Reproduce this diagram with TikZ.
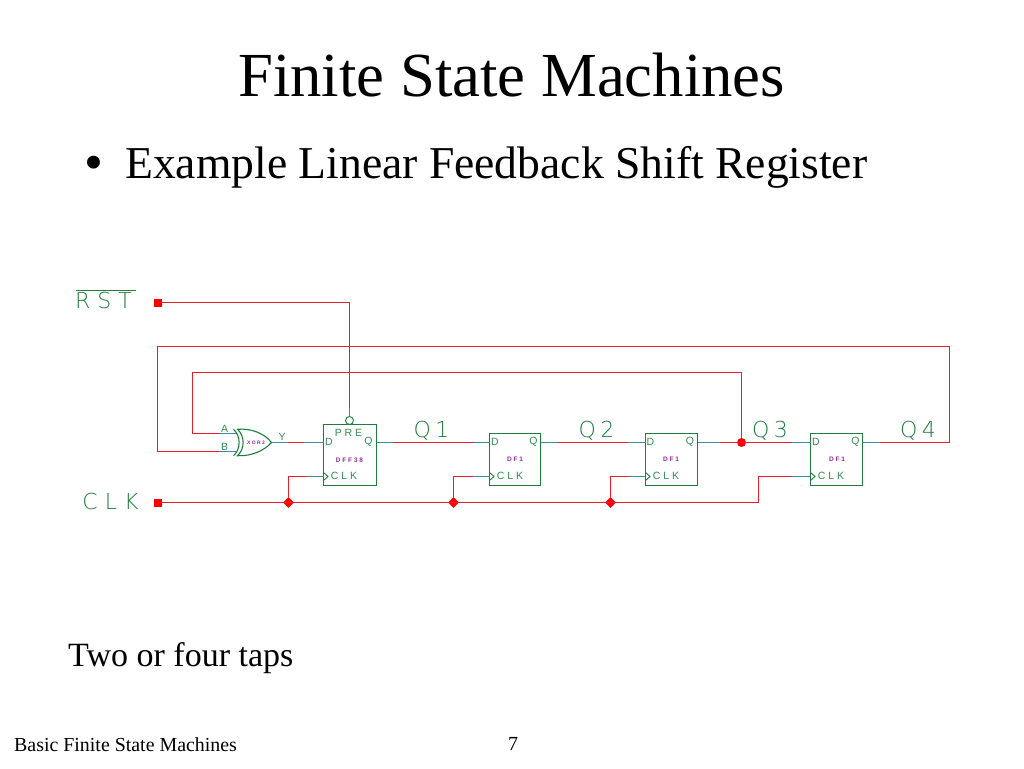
\documentclass[tikz,border=0pt]{standalone}
\usepackage{fontspec}
\usetikzlibrary{shapes.geometric}
\setmainfont{Liberation Serif}
\setsansfont{Liberation Sans}
\newfontfamily\cadfont{DejaVu Sans ExtraLight}
\definecolor{wirered}{RGB}{235,30,45}
\definecolor{stubteal}{RGB}{60,140,160}
\definecolor{cadgreen}{RGB}{30,125,60}
\definecolor{pingreen}{RGB}{50,140,80}
\definecolor{cadpurple}{RGB}{150,40,150}
\tikzset{
    slidetext/.style={anchor=base west, inner sep=0pt, text=black},
    wire/.style={draw=wirered, line width=1.1pt},
    stub/.style={draw=stubteal, line width=1.1pt},
    part/.style={draw=cadgreen, line width=1.3pt},
    ffbox/.style={part, fill=white, minimum height=52pt, minimum width=52pt, inner sep=0pt},
    pad/.style={fill=red, minimum size=8pt, inner sep=0pt},
    joint/.style={fill=red, diamond, minimum size=11pt, inner sep=0pt},
    tapdot/.style={fill=red, circle, minimum size=9pt, inner sep=0pt},
    biglabel/.style={inner sep=0pt, text=cadgreen, font=\cadfont\fontsize{22}{22}\selectfont},
    pinlabel/.style={inner sep=0pt, text=pingreen, font=\sffamily\fontsize{10.5}{11}\selectfont},
    typelabel/.style={inner sep=0pt, text=cadpurple, font=\bfseries\sffamily\fontsize{6.5}{7}\selectfont},
    xorlabel/.style={typelabel, font=\bfseries\sffamily\fontsize{5}{6}\selectfont}
}
\begin{document}
\begin{tikzpicture}[x=1pt,y=-1pt]
    \useasboundingbox (0,0) rectangle (1024,768);

    % slide text
    \node[slidetext, font=\fontsize{62.7}{64}\selectfont] (title) at (238,96) {Finite State Machines};
    \node[slidetext, font=\fontsize{54}{54}\selectfont] (bullet) at (84.5,180) {\textbullet};
    \node[slidetext, font=\fontsize{45.6}{46}\selectfont] (subtitle) at (125,178) {Example Linear Feedback Shift Register};
    \node[slidetext, font=\fontsize{34}{34}\selectfont] (taps) at (68,666) {Two or four taps};
    \node[slidetext, font=\fontsize{19.9}{20}\selectfont] (footer) at (14,751) {Basic Finite State Machines};
    \node[slidetext, font=\fontsize{20}{20}\selectfont] (pageno) at (508,750) {7};

    % pins
    \coordinate (xorA) at (235.5,433.5);
    \coordinate (xorB) at (235.5,451.5);
    \coordinate (xorY) at (271.5,442.5);
    \coordinate (ff1d) at (323.5,442.5);
    \coordinate (ff1q) at (376.5,442.5);
    \coordinate (ff1c) at (323.5,476.5);
    \coordinate (ff2d) at (489.5,442.5);
    \coordinate (ff2q) at (540.5,442.5);
    \coordinate (ff2c) at (489.5,476.5);
    \coordinate (ff3d) at (645.5,442.5);
    \coordinate (ff3q) at (697.5,442.5);
    \coordinate (ff3c) at (645.5,476.5);
    \coordinate (ff4d) at (810.5,442.5);
    \coordinate (ff4q) at (862.5,442.5);
    \coordinate (ff4c) at (810.5,476.5);
    \coordinate (outerne) at (949.5,346.5);
    \coordinate (outernw) at (157.5,346.5);
    \coordinate (innerne) at (741.5,372.5);
    \coordinate (innernw) at (192.5,372.5);
    \coordinate (clkstep) at (758.5,502.5);

    % pads and joints
    \node[pad] (rstpad) at (157.5,302.5) {};
    \node[pad] (clkpad) at (157.5,502.5) {};
    \node[joint] (clk1) at (288.5,502.5) {};
    \node[joint] (clk2) at (453.5,502.5) {};
    \node[joint] (clk3) at (610.5,502.5) {};
    \node[tapdot] (q3tap) at (741.5,442.5) {};

    % flip flops
    \node[ffbox, minimum width=53pt, minimum height=61pt] (ff1) at (350,455) {};
    \node[ffbox, minimum width=51pt] (ff2) at (515,459.5) {};
    \node[ffbox] (ff3) at (671.5,459.5) {};
    \node[ffbox] (ff4) at (836.5,459.5) {};
    \node[draw=cadgreen, fill=white, circle, minimum size=8pt, inner sep=0pt, line width=0.9pt] (prebub) at (349.5,420.5) {};

    % wires
    \draw[wire] (rstpad) -| (prebub);
    \draw[wire] (ff4q) -| (outerne) -- (outernw) |- (xorB);
    \draw[wire] (q3tap) -- (innerne) -- (innernw) |- (xorA);
    \draw[wire] (xorY) -- (ff1d);
    \draw[wire] (ff1q) -- (ff2d);
    \draw[wire] (ff2q) -- (ff3d);
    \draw[wire] (ff3q) -- (ff4d);
    \draw[wire] (clkpad) -- (clkstep) |- (ff4c);
    \draw[wire] (clk1) |- (ff1c);
    \draw[wire] (clk2) |- (ff2c);
    \draw[wire] (clk3) |- (ff3c);

    % teal ends of the wires
    \draw[stub] (prebub.north) -- ++(0,-8);
    \draw[stub] (xorA) -- ++(-16,0);
    \draw[stub] (xorB) -- ++(-16,0);
    \draw[stub] (xorY) -- ++(16,0);
    \draw[stub] (ff1d) -- ++(-20,0);
    \draw[stub] (ff1q) -- ++(16,0);
    \draw[stub] (ff2d) -- ++(-16,0);
    \draw[stub] (ff2q) -- ++(17,0);
    \draw[stub] (ff3d) -- ++(-18,0);
    \draw[stub] (ff3q) -- ++(22,0);
    \draw[stub] (ff4d) -- ++(-18.5,0);
    \draw[stub] (ff4q) -- ++(17,0);
    \draw[stub] (ff1c) -- ++(-17,0);
    \draw[stub] (ff2c) -- ++(-17,0);
    \draw[stub] (ff3c) -- ++(-17,0);
    \draw[stub] (ff4c) -- ++(-18.5,0);

    % xor gate
    \draw[part, line width=1.1pt] (233.5,429.3) .. controls (241,436) and (241,449) .. (233.5,455.7);
    \draw[part, line width=1.1pt, fill=white] (237.5,429.3) .. controls (245,436) and (245,449) .. (237.5,455.7)
        .. controls (252,456.5) and (265,450) .. (xorY) .. controls (265,434) and (252,428) .. cycle;

    % clock marks
    \draw[part, line width=0.9pt] (ff1c) ++(0,-4) -- ++(4.5,4) -- ++(-4.5,4);
    \draw[part, line width=0.9pt] (ff2c) ++(0,-4) -- ++(4.5,4) -- ++(-4.5,4);
    \draw[part, line width=0.9pt] (ff3c) ++(0,-4) -- ++(4.5,4) -- ++(-4.5,4);
    \draw[part, line width=0.9pt] (ff4c) ++(0,-4) -- ++(4.5,4) -- ++(-4.5,4);

    % big labels
    \node[biglabel] (rstlabel) at (103.5,300.5) {R S T};
    \draw[cadgreen, line width=0.9pt] (76,290.5) -- (136,290.5);
    \node[biglabel] (clklabel) at (110.5,501) {C L K};
    \node[biglabel] (q1label) at (431.5,431) {Q\hspace{0.2em}1};
    \node[biglabel] (q2label) at (596.5,431) {Q\hspace{0.2em}2};
    \node[biglabel] (q3label) at (770,431) {Q\hspace{0.2em}3};
    \node[biglabel] (q4label) at (918,431) {Q\hspace{0.2em}4};

    % pin labels
    \node[pinlabel] (alabel) at (224.5,429) {A};
    \node[pinlabel] (blabel) at (224.5,447) {B};
    \node[pinlabel] (ylabel) at (282,437) {Y};
    \node[pinlabel] (prelabel) at (348.5,432.5) {P R E};
    \node[pinlabel] (d1label) at (329,442) {D};
    \node[pinlabel] (q1pin) at (368.5,442) {Q};
    \node[pinlabel] (clk1label) at (344,475.5) {C L K};
    \node[pinlabel] (d2label) at (495,442) {D};
    \node[pinlabel] (q2pin) at (533.5,442) {Q};
    \node[pinlabel] (clk2label) at (510,476) {C L K};
    \node[pinlabel] (d3label) at (650.5,442) {D};
    \node[pinlabel] (q3pin) at (690,442) {Q};
    \node[pinlabel] (clk3label) at (666,476) {C L K};
    \node[pinlabel] (d4label) at (816,442) {D};
    \node[pinlabel] (q4pin) at (855.5,442) {Q};
    \node[pinlabel] (clk4label) at (831,476) {C L K};

    % part types
    \node[xorlabel] (xortype) at (256,442.5) {X O R 2};
    \node[typelabel] (ff1type) at (349.5,460) {D F F 3 8};
    \node[typelabel] (ff2type) at (515,459) {D F 1};
    \node[typelabel] (ff3type) at (671,459) {D F 1};
    \node[typelabel] (ff4type) at (837,459) {D F 1};
\end{tikzpicture}
\end{document}
